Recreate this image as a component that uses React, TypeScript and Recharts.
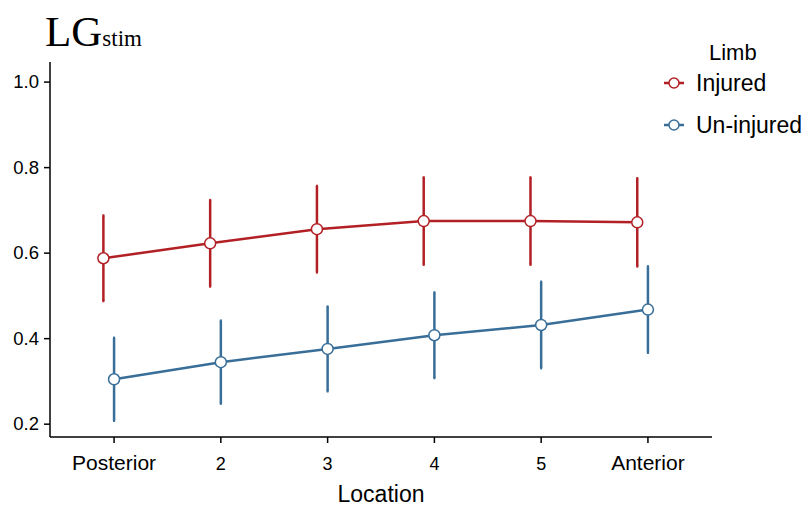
import { LineChart, Line, XAxis, YAxis, ErrorBar } from 'recharts';

const locations = [1, 2, 3, 4, 5, 6];
const locationLabels = ['Posterior', '2', '3', '4', '5', 'Anterior'];
const yTicks = [0.2, 0.4, 0.6, 0.8, 1.0];

const injuredMean = [0.588, 0.623, 0.656, 0.675, 0.675, 0.672];
const injuredErr = [0.1, 0.101, 0.101, 0.102, 0.102, 0.103];
const uninjuredMean = [0.305, 0.345, 0.376, 0.408, 0.432, 0.468];
const uninjuredErr = [0.097, 0.097, 0.099, 0.1, 0.101, 0.101];

const DODGE = 0.1;
const RED = '#B22025';
const BLUE = '#386E98';

const injured = locations.map((x, i) => ({ x: x - DODGE, y: injuredMean[i], err: injuredErr[i] }));
const uninjured = locations.map((x, i) => ({ x, y: uninjuredMean[i], err: uninjuredErr[i] }));

const font = 'Arial, "Liberation Sans", sans-serif';

function XTick(props: any) {
  const { x, y, payload } = props;
  const label = locationLabels[payload.value - 1];
  const big = label.length > 1;
  return (
    <text x={x} y={y + 25} textAnchor="middle" fontFamily={font} fontSize={big ? 21 : 18} fill="#000">
      {label}
    </text>
  );
}

function YTick(props: any) {
  const { x, y, payload } = props;
  return (
    <text x={x - 3} y={y + 6} textAnchor="end" fontFamily={font} fontSize={18.5} fill="#000">
      {payload.value.toFixed(1)}
    </text>
  );
}

function LegendBox() {
  const items = [
    { name: 'Injured', color: RED },
    { name: 'Un-injured', color: BLUE },
  ];
  return (
    <div style={{ position: 'absolute', left: 662, top: 40, fontFamily: font, color: '#000', whiteSpace: 'nowrap' }}>
      <div style={{ fontSize: 22, marginLeft: 47, lineHeight: '26px' }}>Limb</div>
      {items.map((it, i) => (
        <div key={it.name} style={{ display: 'flex', alignItems: 'center', height: 42, marginTop: i === 0 ? -4 : 0 }}>
          <svg width={30} height={20}>
            <line x1={2} x2={22} y1={10} y2={10} stroke={it.color} strokeWidth={2.5} />
            <circle cx={12} cy={10} r={5} fill="#fff" stroke={it.color} strokeWidth={1.5} />
          </svg>
          <span style={{ fontSize: 23, marginLeft: 4 }}>{it.name}</span>
        </div>
      ))}
    </div>
  );
}

export default function App() {
  return (
    <div style={{ position: 'absolute', left: 0, top: 0, width: 807, height: 506, background: '#fff' }}>
      <div style={{ position: 'absolute', left: 45, top: 7, fontFamily: '"Liberation Serif", "Times New Roman", serif', color: '#000', whiteSpace: 'nowrap' }}>
        <span style={{ fontSize: 43 }}>LG</span>
        <span style={{ fontSize: 23 }}>stim</span>
      </div>
      <LineChart width={807} height={506} margin={{ top: 62, right: 95, bottom: 0, left: 0 }}>
        <XAxis
          type="number"
          dataKey="x"
          domain={[0.4, 6.6]}
          ticks={locations}
          allowDuplicatedCategory={false}
          tick={<XTick />}
          tickSize={6}
          stroke="#000"
          strokeWidth={1.5}
          height={69}
          label={{ value: 'Location', position: 'insideBottom', offset: 4, fontSize: 23, fill: '#000', fontFamily: font }}
        />
        <YAxis
          type="number"
          dataKey="y"
          domain={[0.17, 1.047]}
          ticks={yTicks}
          tick={<YTick />}
          tickSize={6}
          stroke="#000"
          strokeWidth={1.5}
          width={50}
        />
        <Line
          data={injured}
          dataKey="y"
          name="Injured"
          stroke={RED}
          strokeWidth={2.5}
          dot={{ r: 5.5, fill: '#fff', stroke: RED, strokeWidth: 1.5 }}
          activeDot={false}
          isAnimationActive={false}
        >
          <ErrorBar dataKey="err" direction="y" width={1} stroke={RED} strokeWidth={2.5} />
        </Line>
        <Line
          data={uninjured}
          dataKey="y"
          name="Un-injured"
          stroke={BLUE}
          strokeWidth={2.5}
          dot={{ r: 5.5, fill: '#fff', stroke: BLUE, strokeWidth: 1.5 }}
          activeDot={false}
          isAnimationActive={false}
        >
          <ErrorBar dataKey="err" direction="y" width={1} stroke={BLUE} strokeWidth={2.5} />
        </Line>
      </LineChart>
      <LegendBox />
    </div>
  );
}
